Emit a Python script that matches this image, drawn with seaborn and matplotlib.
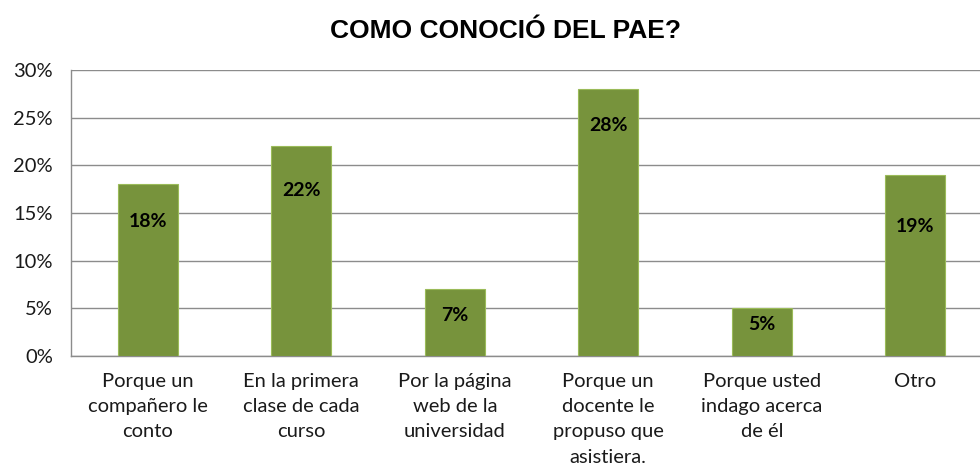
import matplotlib
matplotlib.use("Agg")
import matplotlib.pyplot as plt
import seaborn as sns
import pandas as pd

categories = [
    "Porque un\ncompañero le\nconto",
    "En la primera\nclase de cada\ncurso",
    "Por la página\nweb de la\nuniversidad",
    "Porque un\ndocente le\npropuso que\nasistiera.",
    "Porque usted\nindago acerca\nde él",
    "Otro",
]
values = [18, 22, 7, 28, 5, 19]
value_labels = ["18%", "22%", "7%", "28%", "5%", "19%"]
yticks = [0, 5, 10, 15, 20, 25, 30]
ytick_labels = ["0%", "5%", "10%", "15%", "20%", "25%", "30%"]
title = "COMO CONOCIÓ DEL PAE?"

# layout: label distance below bar top (in % units)
label_drop = [3.9, 4.6, 2.8, 3.8, 1.7, 5.4]

sns.set_theme(style="white")
plt.rcParams['font.family'] = ['Lato', 'DejaVu Sans']

df = pd.DataFrame({"cat": categories, "val": values})

fig = plt.figure(figsize=(9.8, 4.68), dpi=100)
ax = fig.add_axes([71/980, 112/468, 921/980, 286/468])

sns.barplot(data=df, x="cat", y="val", color="#77933C", width=0.39,
            saturation=1, edgecolor="#9BBB59", linewidth=0.8, ax=ax, zorder=3)

ax.set_ylim(0, 30)
ax.set_xlim(-0.5, 5.5)
ax.set_yticks(yticks)
ax.set_yticklabels(ytick_labels, fontsize=14.5, color="#1a1a1a")
ax.tick_params(axis="x", labelsize=14.5, colors="#1a1a1a", pad=12, length=0)
ax.tick_params(axis="y", pad=13, length=0)
ax.set_xlabel("")
ax.set_ylabel("")
ax.yaxis.grid(True, color="#8c8c8c", linewidth=1.0, zorder=0)
ax.set_axisbelow(True)
for s in ["top", "right"]:
    ax.spines[s].set_visible(False)
for s in ["left", "bottom"]:
    ax.spines[s].set_color("#8c8c8c")
    ax.spines[s].set_linewidth(1.0)

for lbl in ax.get_xticklabels():
    lbl.set_linespacing(1.6)
    lbl.set_va("top")

for i, (v, t, d) in enumerate(zip(values, value_labels, label_drop)):
    ax.text(i, v - d, t, ha="center", va="center", fontsize=14,
            fontweight="bold", color="black", zorder=5)

fig.text(505/980, 1 - 31/468, title, ha="center", va="center",
         fontsize=19, fontweight="bold", color="black",
         family=["Liberation Sans Narrow", "Liberation Sans", "DejaVu Sans"])

fig.savefig("out.png", dpi=100)
